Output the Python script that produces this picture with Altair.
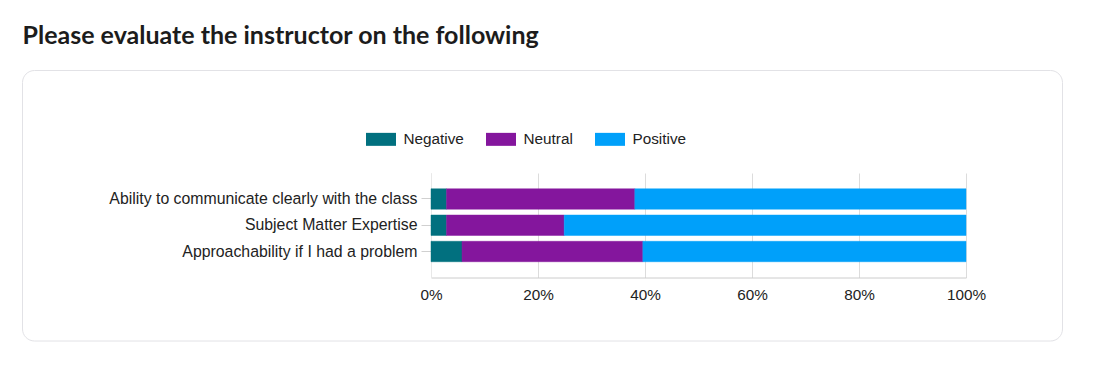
import altair as alt
import pandas as pd

questions = [
    "Ability to communicate clearly with the class",
    "Subject Matter Expertise",
    "Approachability if I had a problem",
]
categories = ["Negative", "Neutral", "Positive"]
negative = [2.9, 2.9, 5.8]
neutral = [35.2, 22.0, 33.8]
positive = [61.9, 75.1, 60.4]
colors = ["#01707f", "#84169d", "#00a0fa"]
tick_values = [0, 0.2, 0.4, 0.6, 0.8, 1.0]
title_text = "Please evaluate the instructor on the following"

rows = []
for qi, q in enumerate(questions):
    for ci, (cat, vals) in enumerate(zip(categories, [negative, neutral, positive])):
        rows.append({"question": q, "category": cat, "value": vals[qi], "order": ci})
df = pd.DataFrame(rows)

FONT = "Liberation Sans, Arial, sans-serif"

W, H = 535, 104.5
LEFT, TOP = 423, 165

card = alt.Chart(pd.DataFrame({"k": [0]})).mark_rect(
    fillOpacity=0, stroke="#e2e2e6", strokeWidth=1, cornerRadius=12
).encode(
    x=alt.value(22 - 431 + 0.5),
    x2=alt.value(1063 - 431 - 0.5),
    y=alt.value(70.5 - 173),
    y2=alt.value(341 - 173),
)

title = alt.Chart(pd.DataFrame({"t": [title_text]})).mark_text(
    align="left", baseline="alphabetic", font="Lato", fontSize=25,
    fontWeight="bold", color="#1c1c1c"
).encode(
    text="t:N",
    x=alt.value(22 - 431 + 0.5),
    y=alt.value(43.5 - 173),
)

bars = alt.Chart(df).mark_bar(strokeWidth=1, strokeOpacity=0.45).encode(
    x=alt.X(
        "value:Q",
        stack="normalize",
        scale=alt.Scale(domain=[0, 1]),
        axis=alt.Axis(
            values=tick_values, format=".0%", title=None, grid=True,
            gridColor="#dcdcdc", tickSize=0, labelPadding=10, labelFlush=False,
            domainColor="#cccccc", labelFont=FONT, labelFontSize=15.3,
            labelColor="#222222",
        ),
    ),
    y=alt.Y(
        "question:N",
        sort=questions,
        scale=alt.Scale(paddingInner=0.22, paddingOuter=0.6),
        axis=alt.Axis(
            title=None, tickSize=10, tickColor="#d0d0d0", labelPadding=4,
            domainColor="#e8e8e8", labelFont=FONT, labelFontSize=15.85,
            labelColor="#222222", labelLimit=500,
        ),
    ),
    color=alt.Color(
        "category:N",
        scale=alt.Scale(domain=categories, range=colors),
        legend=alt.Legend(
            title=None, orient="none", direction="horizontal",
            legendX=-65, legendY=-49,
            symbolType="M-1,-0.433H1V0.433H-1Z", symbolSize=900,
            symbolStrokeWidth=0, symbolOpacity=1,
            labelOffset=7.5, columnPadding=22,
            labelFont=FONT, labelFontSize=15.3, labelColor="#222222",
        ),
    ),
    stroke=alt.Color("category:N", scale=alt.Scale(domain=categories, range=colors), legend=None),
    order=alt.Order("order:Q", sort="ascending"),
)

chart = alt.layer(card, title, bars).properties(
    width=W,
    height=H,
    autosize=alt.AutoSizeParams(type="none"),
    padding={"left": LEFT, "top": TOP, "right": 1080 - LEFT - W, "bottom": 356 - TOP - H},
    background="white",
).configure_view(stroke=None)

chart.save("out.html", embed_options={"renderer": "svg", "actions": False})
